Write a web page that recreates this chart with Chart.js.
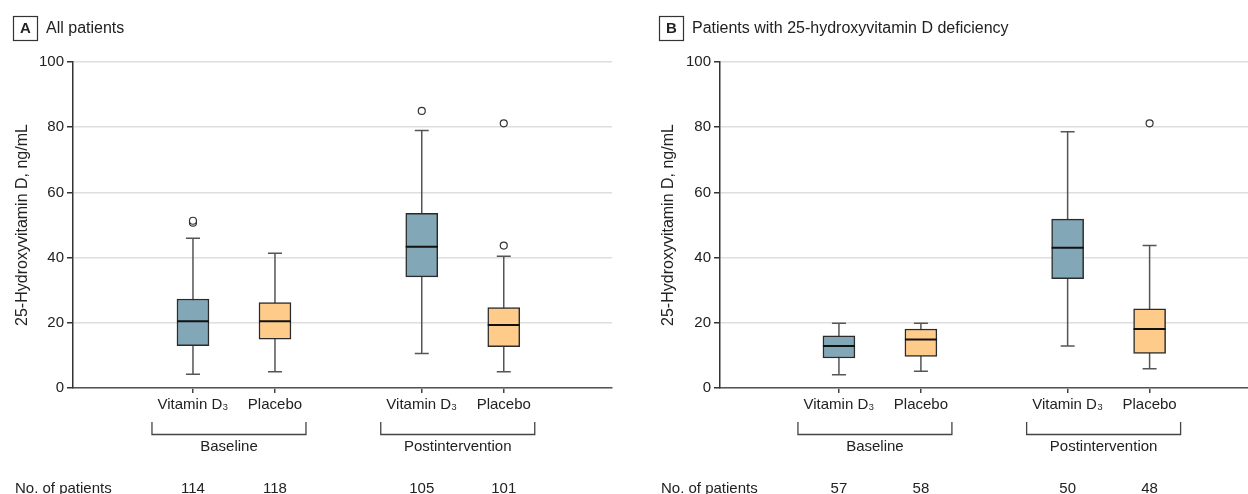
<!DOCTYPE html>
<html>
<head>
<meta charset="utf-8">
<script src="https://cdn.jsdelivr.net/npm/chart.js@4"></script>
<style>
html, body { margin: 0; padding: 0; background: #fff; overflow: hidden; }
canvas { position: absolute; top: 0; }
#chartA { left: 0; }
#chartB { left: 646px; }
</style>
</head>
<body>
<canvas id="chartA" width="646" height="494"></canvas>
<canvas id="chartB" width="607" height="494"></canvas>
<script>
// categories
var groups = ['Baseline', 'Postintervention'];
var arms = ['Vitamin D\u2083', 'Placebo', 'Vitamin D\u2083', 'Placebo'];
var yTicks = [0, 20, 40, 60, 80, 100];

// A: all patients (ng/mL)
var allMin = [4.2, 5.0, 10.6, 5.0];
var allQ1 = [13.0, 15.0, 34.1, 12.7];
var allMed = [20.5, 20.5, 43.3, 19.3];
var allQ3 = [27.3, 26.2, 53.6, 24.7];
var allMax = [45.9, 41.3, 79.0, 40.4];
var allOut = [[50.7, 51.3], [], [85.0], [81.2, 43.7]];
var allN = [114, 118, 105, 101];

// B: patients with deficiency (ng/mL)
var defMin = [4.1, 5.1, 12.9, 5.9];
var defQ1 = [9.2, 9.7, 33.5, 10.6];
var defMed = [12.9, 14.9, 43.0, 18.1];
var defQ3 = [16.0, 18.1, 51.8, 24.3];
var defMax = [19.9, 19.9, 78.6, 43.7];
var defOut = [[], [], [], [81.2]];
var defN = [57, 58, 50, 48];

// where the four boxes sit on the x scale
var xPos = [1, 2, 3.79, 4.79];

var FONT = "'Liberation Sans', Arial, sans-serif";
var colVit = '#82a8b8';
var colPla = '#fecb8b';
var ink = '#2b2b2b';

function makePanel(id, letter, title, mins, q1, med, q3, maxs, outs, counts, xMin, xMax, axisW, padRight) {
  var outPts = [];
  outs.forEach(function (list, i) {
    list.forEach(function (v) { outPts.push({ x: xPos[i], y: v }); });
  });

  var boxPlugin = {
    id: 'boxParts',
    beforeDatasetsDraw: function (chart) {
      var c = chart.ctx, xs = chart.scales.x, ys = chart.scales.y;
      c.save();
      c.strokeStyle = '#555';
      c.lineWidth = 1.5;
      for (var i = 0; i < xPos.length; i++) {
        var x = xs.getPixelForValue(xPos[i]);
        var lo = ys.getPixelForValue(mins[i]), hi = ys.getPixelForValue(maxs[i]);
        c.beginPath();
        c.moveTo(x, lo); c.lineTo(x, hi);
        c.moveTo(x - 7, lo); c.lineTo(x + 7, lo);
        c.moveTo(x - 7, hi); c.lineTo(x + 7, hi);
        c.stroke();
      }
      c.restore();
    },
    afterDatasetsDraw: function (chart) {
      var c = chart.ctx, xs = chart.scales.x, ys = chart.scales.y;
      c.save();
      c.strokeStyle = '#111';
      c.lineWidth = 2;
      for (var i = 0; i < xPos.length; i++) {
        var x = xs.getPixelForValue(xPos[i]);
        var y = ys.getPixelForValue(med[i]);
        c.beginPath();
        c.moveTo(x - 16, y); c.lineTo(x + 16, y);
        c.stroke();
      }
      c.restore();
    },
    afterDraw: function (chart) {
      var c = chart.ctx, xs = chart.scales.x;
      c.save();
      // panel letter + title
      c.strokeStyle = '#333';
      c.lineWidth = 1.2;
      c.strokeRect(13.5, 16.5, 24, 24);
      c.fillStyle = '#222';
      c.textBaseline = 'middle';
      c.textAlign = 'center';
      c.font = 'bold 15px ' + FONT;
      c.fillText(letter, 25.5, 29);
      c.textAlign = 'left';
      c.font = '16px ' + FONT;
      c.fillText(title, 46, 29);

      // group brackets
      c.strokeStyle = '#444';
      c.lineWidth = 1.3;
      c.font = '15px ' + FONT;
      c.textAlign = 'center';
      for (var g = 0; g < groups.length; g++) {
        var a = xs.getPixelForValue(xPos[g * 2]) - 41;
        var b = xs.getPixelForValue(xPos[g * 2 + 1]) + 31;
        c.beginPath();
        c.moveTo(a, 422); c.lineTo(a, 434.5); c.lineTo(b, 434.5); c.lineTo(b, 422);
        c.stroke();
        c.fillText(groups[g], (a + b) / 2, 447);
      }

      // patient counts
      c.textAlign = 'left';
      c.fillText('No. of patients', 15, 489);
      c.textAlign = 'center';
      for (var i = 0; i < counts.length; i++) {
        c.fillText(String(counts[i]), xs.getPixelForValue(xPos[i]), 489);
      }
      c.restore();
    }
  };

  return new Chart(document.getElementById(id), {
    type: 'bar',
    data: {
      datasets: [{
        type: 'bar',
        data: xPos.map(function (x, i) { return { x: x, y: [q1[i], q3[i]] }; }),
        backgroundColor: [colVit, colPla, colVit, colPla],
        borderColor: ink,
        borderWidth: 1.5,
        borderSkipped: false,
        barThickness: 32
      }, {
        type: 'scatter',
        data: outPts,
        pointRadius: 3.5,
        pointBackgroundColor: '#fff',
        pointBorderColor: '#333',
        pointBorderWidth: 1.2
      }]
    },
    options: {
      responsive: false,
      animation: false,
      devicePixelRatio: 1,
      layout: { padding: { top: 62, left: 0, right: padRight, bottom: 0 } },
      plugins: { legend: { display: false }, tooltip: { enabled: false } },
      scales: {
        x: {
          type: 'linear',
          offset: false,
          min: xMin,
          max: xMax,
          afterBuildTicks: function (s) {
            s.ticks = xPos.map(function (v) { return { value: v }; });
          },
          afterFit: function (s) { s.height = 106; },
          ticks: {
            autoSkip: false,
            maxRotation: 0,
            padding: 3,
            color: '#222',
            font: { family: FONT, size: 15 },
            callback: function (v, i) { return arms[i]; }
          },
          grid: { offset: false, drawOnChartArea: false, tickLength: 5, tickColor: '#444', lineWidth: 1.5 },
          border: { color: '#555', width: 1.5 }
        },
        y: {
          min: 0,
          max: 100,
          afterBuildTicks: function (s) {
            s.ticks = yTicks.map(function (v) { return { value: v }; });
          },
          afterFit: function (s) { s.width = axisW; },
          ticks: {
            padding: 3,
            color: '#222',
            font: { family: FONT, size: 15 }
          },
          grid: { color: '#dedede', lineWidth: 1.5, tickLength: 6, tickColor: '#333' },
          border: { color: '#333', width: 1.5 },
          title: {
            display: true,
            text: '25-Hydroxyvitamin D, ng/mL',
            color: '#222',
            font: { family: FONT, size: 16 },
            padding: { top: 13, bottom: 0 }
          }
        }
      }
    },
    plugins: [boxPlugin]
  });
}

var chartA = makePanel('chartA', 'A', 'All patients',
  allMin, allQ1, allMed, allQ3, allMax, allOut, allN, -0.463, 6.110, 73, 34);
var chartB = makePanel('chartB', 'B', 'Patients with 25-hydroxyvitamin D deficiency',
  defMin, defQ1, defMed, defQ3, defMax, defOut, defN, -0.451, 5.988, 74, 5);
</script>
</body>
</html>
